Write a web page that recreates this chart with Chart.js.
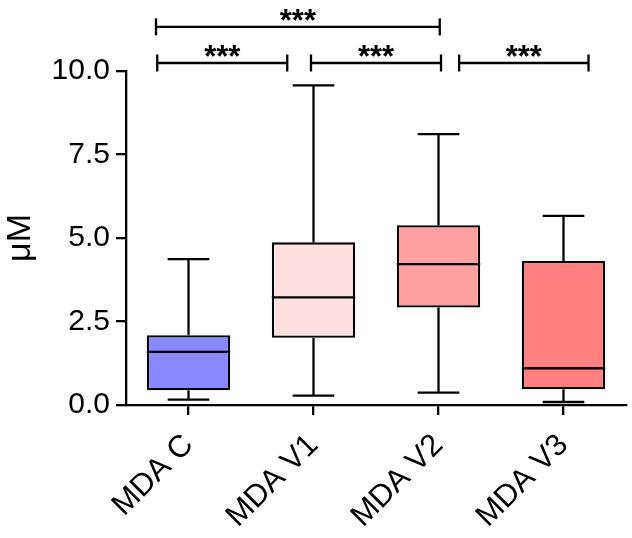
<!DOCTYPE html>
<html lang="en">
<head>
  <meta charset="UTF-8">
  <title>MDA box plot</title>
  <style>
    body { margin: 0; background: #fff; }
    #wrap { width: 632px; height: 538px; }
  </style>
  <script src="https://cdn.jsdelivr.net/npm/chart.js"></script>
</head>
<body>
  <div id="wrap"><canvas id="chart" width="632" height="538"></canvas></div>

  <script>
    // data
    const categories = ['MDA C', 'MDA V1', 'MDA V2', 'MDA V3'];
    const mins    = [0.16, 0.28, 0.37, 0.09];
    const q1s     = [0.44, 2.01, 2.92, 0.47];
    const medians = [1.59, 3.22, 4.22, 1.10];
    const q3s     = [2.09, 4.87, 5.38, 4.31];
    const maxs    = [4.37, 9.57, 8.11, 5.66];
    const boxColors = ['#8888ff', '#ffdfe0', '#ff9fa0', '#ff8080'];
    const yTicks = [0, 2.5, 5, 7.5, 10];

    // significance brackets: [from category, to category], level in µM, label
    const pairs = [[0, 1], [1, 2], [2, 3], [0, 2]];
    const pairLevels = [10.24, 10.24, 10.24, 11.32];
    const pairLabels = ['***', '***', '***', '***'];

    const FONT = '"Liberation Sans", Arial, sans-serif';
    const LW = 2.3;

    // whiskers, medians, caps and brackets
    const boxParts = {
      id: 'boxParts',
      afterDraw(chart) {
        const { ctx, scales: { x, y } } = chart;
        const meta = chart.getDatasetMeta(0);
        ctx.save();
        ctx.strokeStyle = '#000';
        ctx.lineWidth = LW;
        const line = (x1, y1, x2, y2) => {
          ctx.beginPath(); ctx.moveTo(x1, y1); ctx.lineTo(x2, y2); ctx.stroke();
        };
        meta.data.forEach((bar, i) => {
          const cx = bar.x, half = bar.width / 2, cap = half / 2;
          const pMed = y.getPixelForValue(medians[i]);
          const pQ1 = y.getPixelForValue(q1s[i]);
          const pQ3 = y.getPixelForValue(q3s[i]);
          const pMin = y.getPixelForValue(mins[i]);
          const pMax = y.getPixelForValue(maxs[i]);
          line(cx - half, pMed, cx + half, pMed);
          line(cx, pQ3, cx, pMax);
          line(cx, pQ1, cx, pMin);
          line(cx - cap, pMax, cx + cap, pMax);
          line(cx - cap, pMin, cx + cap, pMin);
        });

        // bracket end nudges (in category widths), so they don't touch
        const ends = [[-0.25, -0.21], [-0.02, 0.02], [0.165, 0.2], [-0.26, 0.01]];
        ctx.fillStyle = '#000';
        ctx.font = 'bold 31px ' + FONT;
        ctx.textAlign = 'center';
        ctx.textBaseline = 'alphabetic';
        pairs.forEach((p, k) => {
          const x1 = x.getPixelForValue(p[0] + ends[k][0]);
          const x2 = x.getPixelForValue(p[1] + ends[k][1]);
          const py = y.getPixelForValue(pairLevels[k]);
          line(x1, py, x2, py);
          line(x1, py - 8.5, x1, py + 8.5);
          line(x2, py - 8.5, x2, py + 8.5);
          ctx.fillText(pairLabels[k], (x1 + x2) / 2, py + 4);
        });
        ctx.restore();
      }
    };

    new Chart(document.getElementById('chart'), {
      type: 'bar',
      data: {
        labels: categories,
        datasets: [{
          data: q1s.map((q, i) => [q, q3s[i]]),
          backgroundColor: boxColors,
          borderColor: '#000',
          borderWidth: LW,
          borderSkipped: false,
          categoryPercentage: 1,
          barPercentage: 0.667
        }]
      },
      options: {
        responsive: false,
        animation: false,
        layout: { padding: { top: 71, right: 6, left: 0, bottom: 0 } },
        plugins: { legend: { display: false }, tooltip: { enabled: false } },
        scales: {
          x: {
            offset: true,
            afterFit: s => { s.height = 133; },
            border: { color: '#000', width: LW },
            grid: { offset: false, drawOnChartArea: false, drawTicks: true, tickLength: 10, color: '#000', lineWidth: LW },
            ticks: { color: '#000', font: { family: FONT, size: 31 }, minRotation: 45, maxRotation: 45, padding: 12 }
          },
          y: {
            min: 0,
            max: 10,
            afterFit: s => { s.width = 126; },
            afterBuildTicks: s => { s.ticks = yTicks.map(v => ({ value: v })); },
            border: { color: '#000', width: LW },
            grid: { drawOnChartArea: false, drawTicks: true, tickLength: 10, color: '#000', lineWidth: LW },
            ticks: { color: '#000', font: { family: FONT, size: 30 }, padding: 6, callback: v => v.toFixed(1) },
            title: { display: true, text: 'μM', color: '#000', font: { family: FONT, size: 34 }, padding: { top: 0, bottom: 0 } }
          }
        }
      },
      plugins: [boxParts]
    });
  </script>
</body>
</html>
